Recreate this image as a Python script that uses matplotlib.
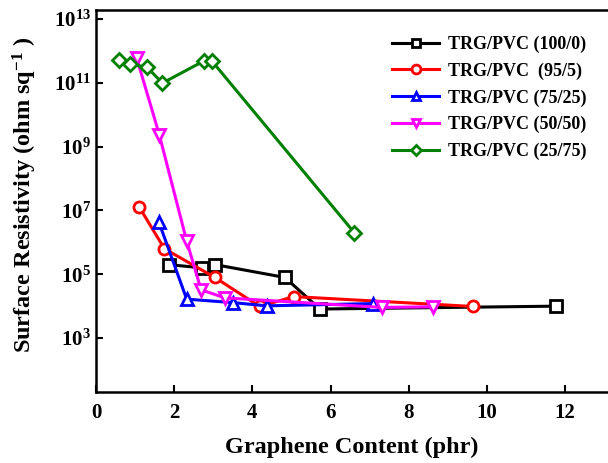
import matplotlib
matplotlib.use("Agg")
import matplotlib.pyplot as plt
import numpy as np

plt.rcParams['font.family'] = 'Liberation Serif'
plt.rcParams['font.weight'] = 'bold'
plt.rcParams['mathtext.fontset'] = 'custom'
plt.rcParams['mathtext.rm'] = 'Liberation Serif:bold'
plt.rcParams['mathtext.it'] = 'Liberation Serif:bold:italic'
plt.rcParams['mathtext.bf'] = 'Liberation Serif:bold'

# graphene content (phr) and log10 surface resistivity for each TRG/PVC ratio
x_100_0 = [1.87, 2.72, 3.05, 4.83, 5.73, 11.76]
y_100_0 = [5.30, 5.20, 5.30, 4.90, 3.91, 4.00]

x_95_5 = [1.10, 1.75, 3.04, 4.19, 5.06, 9.65]
y_95_5 = [7.12, 5.80, 4.90, 3.99, 4.30, 3.99]

x_75_25 = [1.61, 2.32, 3.51, 4.37, 7.08]
y_75_25 = [6.63, 4.22, 4.11, 4.01, 4.08]

x_50_50 = [1.04, 1.62, 2.32, 2.69, 3.30, 7.31, 8.63]
y_50_50 = [11.78, 9.37, 6.04, 4.51, 4.26, 3.96, 3.98]

x_25_75 = [0.60, 0.87, 1.31, 1.70, 2.77, 2.96, 6.61]
y_25_75 = [11.70, 11.59, 11.48, 10.99, 11.69, 11.69, 6.30]

series = [
    (x_100_0, y_100_0, 'black', 's', 'TRG/PVC (100/0)'),
    (x_95_5, y_95_5, 'red', 'o', 'TRG/PVC  (95/5)'),
    (x_75_25, y_75_25, 'blue', '^', 'TRG/PVC (75/25)'),
    (x_50_50, y_50_50, '#ff00ff', 'v', 'TRG/PVC (50/50)'),
    (x_25_75, y_25_75, 'green', 'D', 'TRG/PVC (25/75)'),
]

fig = plt.figure(figsize=(6.08, 4.63), dpi=100)
ax = fig.add_axes([96/608, 1-392/463, 1-96/608, (392-10)/463])

for xs, ys, c, m, lab in series:
    ms = 7 if m == 'D' else 8
    ax.plot(xs, 10**np.array(ys), color=c, marker=m, ms=ms, mfc='white',
            mec=c, mew=2, lw=2.2, label=lab)

ax.set_yscale('log')
ax.set_xlim(0, 13.1)
ax.set_ylim(10**1.31, 10**13.28)
ax.set_xticks(range(0, 13, 2))
yt = [3, 5, 7, 9, 11, 13]
ax.set_yticks([10.0**e for e in yt])
ax.set_yticklabels([r'$10^{%d}$' % e for e in yt])
ax.minorticks_off()
ax.tick_params(direction='in', length=5, width=1.5, labelsize=15)
ax.tick_params(axis='x', pad=8)
for s in ax.spines.values():
    s.set_linewidth(1.8)
ax.spines['right'].set_visible(False)

ax.set_xlabel('Graphene Content (phr)', fontsize=17.5, fontweight='bold', labelpad=10)
ax.set_ylabel(r'Surface Resistivity (ohm sq$^{-1}$ )', fontsize=17.5, fontweight='bold')
ax.yaxis.set_label_coords(-0.112, 0.515)

leg = ax.legend(loc='upper right', bbox_to_anchor=(0.99, 0.975), frameon=False,
                prop={'family': 'Liberation Serif', 'weight': 'bold', 'size': 13},
                handlelength=2.6, labelspacing=0.52, handletextpad=0.5, markerscale=0.8)

fig.savefig('out.png', dpi=100)
